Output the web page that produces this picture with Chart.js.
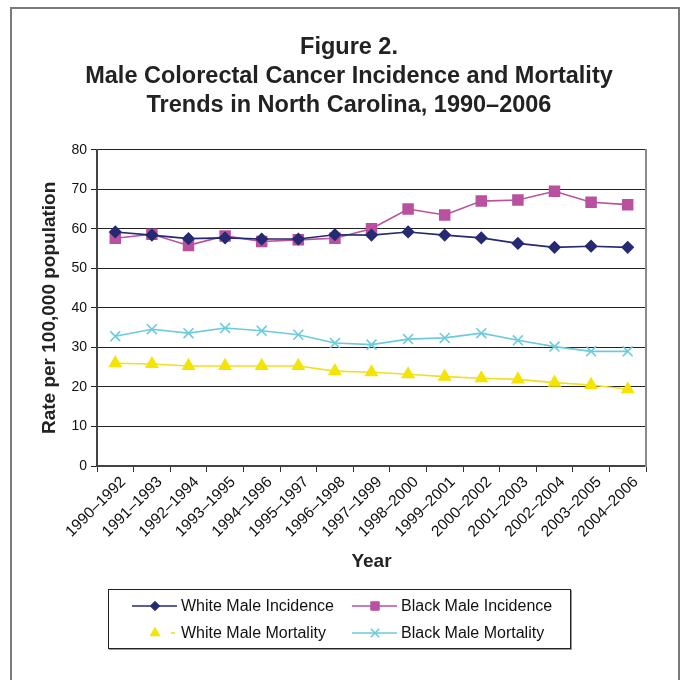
<!DOCTYPE html>
<html>
<head>
<meta charset="utf-8">
<script src="https://cdn.jsdelivr.net/npm/chart.js@4.4.1/dist/chart.umd.min.js"></script>
<style>
  html, body { margin: 0; padding: 0; background: #fff; overflow: hidden; }
  body { width: 686px; height: 680px; position: relative; font-family: "Liberation Sans", Arial, Helvetica, sans-serif; }
  .frame { position: absolute; left: 10px; top: 7px; width: 670px; height: 700px; border: 2px solid #7a7a7a; box-sizing: border-box; }
  #chart { position: absolute; left: 0; top: 0; }
  .legend { position: absolute; left: 108px; top: 589px; width: 463px; height: 60px; border: 1px solid #222; box-sizing: border-box; box-shadow: 1px 1px 0 #999; }
  .item { position: absolute; height: 18px; font-size: 16px; color: #111; white-space: nowrap; }
  .item canvas { position: absolute; left: 0; top: 0; }
  .item span { position: absolute; top: 0; line-height: 18px; }
</style>
</head>
<body>
<div class="frame"></div>
<canvas id="chart" width="686" height="680"></canvas>
<div class="legend" id="legend"></div>
<script>
let years = ['1990–1992', '1991–1993', '1992–1994', '1993–1995', '1994–1996', '1995–1997', '1996–1998', '1997–1999',
  '1998–2000', '1999–2001', '2000–2002', '2001–2003', '2002–2004', '2003–2005', '2004–2006']

let white_incidence = [59.2, 58.4, 57.5, 57.7, 57.4, 57.4, 58.5, 58.4, 59.2, 58.4, 57.7, 56.3, 55.3, 55.6, 55.3]
let black_incidence = [57.6, 58.6, 55.8, 58.2, 56.8, 57.2, 57.6, 60.0, 65.0, 63.5, 67.0, 67.3, 69.5, 66.7, 66.1]
let white_mortality = [26.0, 25.8, 25.3, 25.3, 25.3, 25.3, 24.0, 23.7, 23.2, 22.6, 22.2, 21.9, 21.1, 20.5, 19.4]
let black_mortality = [32.8, 34.6, 33.6, 34.9, 34.2, 33.2, 31.1, 30.7, 32.1, 32.4, 33.6, 31.8, 30.2, 29.0, 29.0]

let y_ticks = [0, 10, 20, 30, 40, 50, 60, 70, 80]

let font = '"Liberation Sans", Arial, Helvetica, sans-serif'
Chart.defaults.font.family = font
Chart.defaults.color = '#111'

let datasets = [
  { label: 'White Male Incidence', data: white_incidence, borderColor: '#252a72', backgroundColor: '#252a72',
    borderWidth: 1.6, pointStyle: 'rectRot', pointRadius: 5.5 },
  { label: 'Black Male Incidence', data: black_incidence, borderColor: '#b9519f', backgroundColor: '#b9519f',
    borderWidth: 1.6, pointStyle: 'rect', pointRadius: 7 },
  { label: 'White Male Mortality', data: white_mortality, borderColor: '#f0e01e', backgroundColor: '#f5e400',
    borderWidth: 1.6, pointStyle: 'triangle', pointRadius: 6.5 },
  { label: 'Black Male Mortality', data: black_mortality, borderColor: '#6ccbdb', backgroundColor: '#6ccbdb',
    borderWidth: 1.6, pointStyle: 'crossRot', pointRadius: 7, pointBorderWidth: 1.6 },
]
datasets.forEach(d => { d.pointBorderColor = d.backgroundColor; d.tension = 0 })

const ctx = document.getElementById('chart')

new Chart(ctx, {
  type: 'line',
  data: { labels: years, datasets: datasets },
  options: {
    responsive: false,
    animation: false,
    layout: { padding: { left: 12, right: 0, top: 8, bottom: 105 } },
    plugins: {
      legend: { display: false },
      tooltip: { enabled: false },
      title: {
        display: true,
        text: ['Figure 2.', 'Male Colorectal Cancer Incidence and Mortality', 'Trends in North Carolina, 1990–2006'],
        color: '#222',
        font: { size: 23.5, weight: 'bold', lineHeight: 1.23 },
        padding: { top: 25, bottom: 30 },
      },
    },
    scales: {
      x: {
        type: 'category',
        offset: true,
        grid: { offset: true, drawOnChartArea: false, drawTicks: true, tickLength: 6, color: '#333', lineWidth: 1 },
        border: { color: '#444', width: 2 },
        ticks: { maxRotation: 45, minRotation: 45, autoSkip: false, padding: 1, labelOffset: 8, font: { size: 15.5 }, color: '#111' },
        title: { display: true, text: 'Year', color: '#222', font: { size: 19, weight: 'bold' }, padding: { top: 0, bottom: 2 } },
        afterFit: (s) => { s.height = 109 },
      },
      y: {
        min: 0,
        max: 80,
        afterBuildTicks: (s) => { s.ticks = y_ticks.map(v => ({ value: v })) },
        grid: { color: '#222', lineWidth: 1, drawTicks: true, tickLength: 6 },
        border: { color: '#444', width: 2 },
        ticks: { padding: 4, font: { size: 14 }, color: '#111' },
        title: { display: true, text: 'Rate per 100,000 population', color: '#222', font: { size: 19, weight: 'bold' }, padding: { top: 26, bottom: 0 } },
        afterFit: (s) => { s.width = 85 },
      },
      y2: {
        position: 'right',
        display: true,
        min: 0,
        max: 80,
        grid: { drawOnChartArea: false, drawTicks: false },
        border: { color: '#8a8a8a', width: 2 },
        ticks: { display: false },
        afterFit: (s) => { s.width = 40 },
      },
    },
  },
})

// legend with line + marker icons, laid out as in the figure
let legend_pos = [[23, 7], [243, 7], [23, 34], [243, 34]]
let legend = document.getElementById('legend')
datasets.forEach((d, i) => {
  let item = document.createElement('div')
  item.className = 'item'
  item.style.left = legend_pos[i][0] + 'px'
  item.style.top = legend_pos[i][1] + 'px'
  let icon = document.createElement('canvas')
  icon.width = 46
  icon.height = 18
  let c = icon.getContext('2d')
  c.strokeStyle = d.borderColor
  c.lineWidth = 1.6
  c.beginPath()
  if (i === 2) {
    c.moveTo(39, 9); c.lineTo(43, 9)
  } else {
    c.moveTo(0, 9); c.lineTo(45, 9)
  }
  c.stroke()
  c.fillStyle = d.backgroundColor
  c.strokeStyle = d.backgroundColor
  c.lineWidth = d.pointBorderWidth || 1
  c.beginPath()
  Chart.helpers.drawPoint(c, { pointStyle: d.pointStyle, radius: d.pointRadius * 0.85, borderWidth: 1 }, 23, 9)
  let span = document.createElement('span')
  span.style.left = '49px'
  span.textContent = d.label
  item.appendChild(icon)
  item.appendChild(span)
  legend.appendChild(item)
})
</script>
</body>
</html>
